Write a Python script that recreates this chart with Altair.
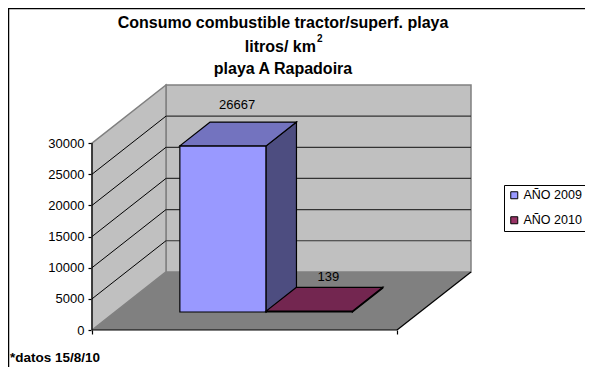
import altair as alt
import pandas as pd

# ---- values
series = ["AÑO 2009", "AÑO 2010"]
values = [26667, 139]
front_colors = ["#9999FF", "#993366"]
top_colors = ["#7373BF", "#732650"]
side_colors = ["#4D4D80", "#4D1A33"]
y_ticks = [0, 5000, 10000, 15000, 20000, 25000, 30000]
title_line1 = "Consumo combustible tractor/superf. playa"
title_line2 = "litros/ km"
title_sup = "2"
title_line3 = "playa A Rapadoira"
footnote = "*datos 15/8/10"

# ---- oblique 3D model: category width in bar widths, depth in model units
FONT = "Liberation Sans"
V_MAX = 30000
FLOOR_U = 3.5        # gap 150% + two bars
GAP_U = 0.745
BAR_W = 0.99
DEPTH_U = 0.849      # sideways shift of full depth (bar widths)
DEPTH_V = 9325       # upward shift of full depth (value units)
BAR_D0, BAR_D1 = 0.31, 0.72
X_DOM = [0, FLOOR_U + DEPTH_U]
Y_DOM = [0, V_MAX + DEPTH_V]


def X(u, d=0.0):
    return u + d * DEPTH_U


def Y(v, d=0.0):
    return v + d * DEPTH_V


xs = alt.Scale(domain=X_DOM, nice=False, zero=False)
ys = alt.Scale(domain=Y_DOM, nice=False, zero=False)
x_axis = alt.Axis(values=[0, FLOOR_U], labels=False, domain=False, grid=False,
                  ticks=True, tickSize=4, tickColor="#000000", tickWidth=1.2, title=None)
y_axis = alt.Axis(values=y_ticks, format="d", domain=False, grid=False,
                  tickSize=4, tickColor="#000000", tickWidth=1.2,
                  labelFont=FONT, labelFontSize=13, labelColor="#000000",
                  labelPadding=4, title=None)
xe = alt.X("x:Q", scale=xs, axis=x_axis)
ye = alt.Y("y:Q", scale=ys, axis=y_axis, stack=None)


def vface(rows, **mark):
    """Face with vertical edges: rows of (x, y, y2)."""
    df = pd.DataFrame(rows, columns=["x", "y", "y2"])
    return alt.Chart(df).mark_area(orient="vertical", **mark).encode(
        x=xe, y=ye, y2=alt.Y2("y2:Q"))


def hface(rows, **mark):
    """Face with horizontal edges: rows of (y, x, x2)."""
    df = pd.DataFrame(rows, columns=["y", "x", "x2"])
    return alt.Chart(df).mark_area(orient="horizontal", **mark).encode(
        y=alt.Y("y:Q", scale=ys, axis=y_axis),
        x=alt.X("x:Q", scale=xs, axis=x_axis, stack=None), x2=alt.X2("x2:Q"))


def segs(rows, **mark):
    """Line segments: rows of (id, x, y)."""
    df = pd.DataFrame(rows, columns=["id", "x", "y"])
    return alt.Chart(df).mark_line(**mark).encode(
        x=xe, y=alt.Y("y:Q", scale=ys, axis=y_axis), detail="id:N")


layers = []

# walls and floor
GRAY = "#808080"
layers.append(vface([(X(0, 1), Y(0, 1), Y(V_MAX, 1)), (X(FLOOR_U, 1), Y(0, 1), Y(V_MAX, 1))],
                    fill="#C0C0C0", stroke=GRAY, strokeWidth=1.5))
layers.append(vface([(X(0, 0), Y(0, 0), Y(V_MAX, 0)), (X(0, 1), Y(0, 1), Y(V_MAX, 1))],
                    fill="#C0C0C0", stroke=GRAY, strokeWidth=1.5))
layers.append(hface([(Y(0, 0), X(0, 0), X(FLOOR_U, 0)), (Y(0, 1), X(0, 1), X(FLOOR_U, 1))],
                    fill="#808080"))

# gridlines
grid_vals = [v for v in y_ticks if 0 < v < V_MAX]
layers.append(segs([r for v in grid_vals for r in
                    ((v, X(0, 0), Y(v, 0)), (v, X(0, 1), Y(v, 1)))],
                   color="#000000", strokeWidth=1))
layers.append(segs([r for v in grid_vals for r in
                    ((v, X(0, 1), Y(v, 1)), (v, X(FLOOR_U, 1), Y(v, 1)))],
                   color="#333333", strokeWidth=1.2))

# floor edges and value axis line
layers.append(segs([("f", X(0, 0), Y(0, 0)), ("f", X(FLOOR_U, 0), Y(0, 0)),
                    ("r", X(FLOOR_U, 0), Y(0, 0)), ("r", X(FLOOR_U, 1), Y(0, 1)),
                    ("a", X(0, 0), Y(0, 0)), ("a", X(0, 0), Y(V_MAX, 0))],
                   color="#000000", strokeWidth=1.2))

# bars: front faces carry the legend
front_rows = []
for i, (s, v) in enumerate(zip(series, values)):
    u0 = GAP_U + i * BAR_W
    for u in (u0, u0 + BAR_W):
        front_rows.append({"serie": s, "x": X(u, BAR_D0), "y": Y(v, BAR_D0), "y2": Y(0, BAR_D0)})
fronts = alt.Chart(pd.DataFrame(front_rows)).mark_area(
    orient="vertical", stroke="#000000", strokeWidth=1.2).encode(
    x=xe, y=ye, y2=alt.Y2("y2:Q"),
    color=alt.Color("serie:N",
                    scale=alt.Scale(domain=series, range=front_colors),
                    legend=alt.Legend(
                        orient="none", legendX=412, legendY=100, title=None,
                        strokeColor="#000000", fillColor="#FFFFFF", padding=4,
                        symbolType="square", symbolSize=49,
                        symbolStrokeColor="#000000", symbolStrokeWidth=1,
                        symbolOpacity=1, labelFont=FONT, labelFontSize=12.5,
                        labelColor="#000000", labelOffset=3, rowPadding=12,
                        labelLimit=200)))
layers.append(fronts)

for i, v in enumerate(values):
    u0 = GAP_U + i * BAR_W
    u1 = u0 + BAR_W
    layers.append(vface([(X(u1, BAR_D0), Y(0, BAR_D0), Y(v, BAR_D0)),
                         (X(u1, BAR_D1), Y(0, BAR_D1), Y(v, BAR_D1))],
                        fill=side_colors[i], stroke="#000000", strokeWidth=1.2))
    layers.append(hface([(Y(v, BAR_D0), X(u0, BAR_D0), X(u1, BAR_D0)),
                         (Y(v, BAR_D1), X(u0, BAR_D1), X(u1, BAR_D1))],
                        fill=top_colors[i], stroke="#000000", strokeWidth=1.2))

# value labels
for i, (v, dy, dx) in enumerate(zip(values, [-29, -22], [-1, 4])):
    ldf = pd.DataFrame({"x": [X(GAP_U + (i + 0.5) * BAR_W, (BAR_D0 + BAR_D1) / 2)],
                        "y": [Y(v, (BAR_D0 + BAR_D1) / 2)],
                        "lab": [str(v)]})
    layers.append(alt.Chart(ldf).mark_text(
        font=FONT, fontSize=13, color="#000000", dy=dy, dx=dx, baseline="middle").encode(
        x=alt.X("x:Q", scale=xs, axis=x_axis), y=alt.Y("y:Q", scale=ys, axis=y_axis), text="lab:N"))

# chart frame (top and left only are visible in the picture), title and footnote
LEFT, TOP = 84, 77
layers.append(alt.Chart().mark_rule(color="#000000", strokeWidth=1.5).encode(
    x=alt.value(-LEFT), x2=alt.value(493), y=alt.value(-TOP + 0.5)))
layers.append(alt.Chart().mark_rule(color="#000000", strokeWidth=1.5).encode(
    x=alt.value(-LEFT + 0.5), y=alt.value(-TOP), y2=alt.value(282)))


def note(text, x, y, size=16, align="center"):
    return alt.Chart().mark_text(text=text, font=FONT, fontSize=size, fontWeight="bold",
                                 color="#000000", align=align, baseline="middle").encode(
        x=alt.value(x), y=alt.value(y))


layers.append(note(title_line1, 191, -62))
layers.append(note(title_line2, 224, -38, align="right"))
layers.append(note(title_sup, 225, -46, size=10, align="left"))
layers.append(note(title_line3, 191, -16))
layers.append(note(footnote, -82, 273, size=13.5, align="left"))

chart = alt.layer(*layers).properties(
    width=379, height=245,
    autosize=alt.AutoSizeParams(type="none"),
    padding={"left": LEFT, "top": TOP, "right": 114, "bottom": 37},
).configure_view(stroke=None)

chart.save("out.html", embed_options={"renderer": "svg", "actions": False})
